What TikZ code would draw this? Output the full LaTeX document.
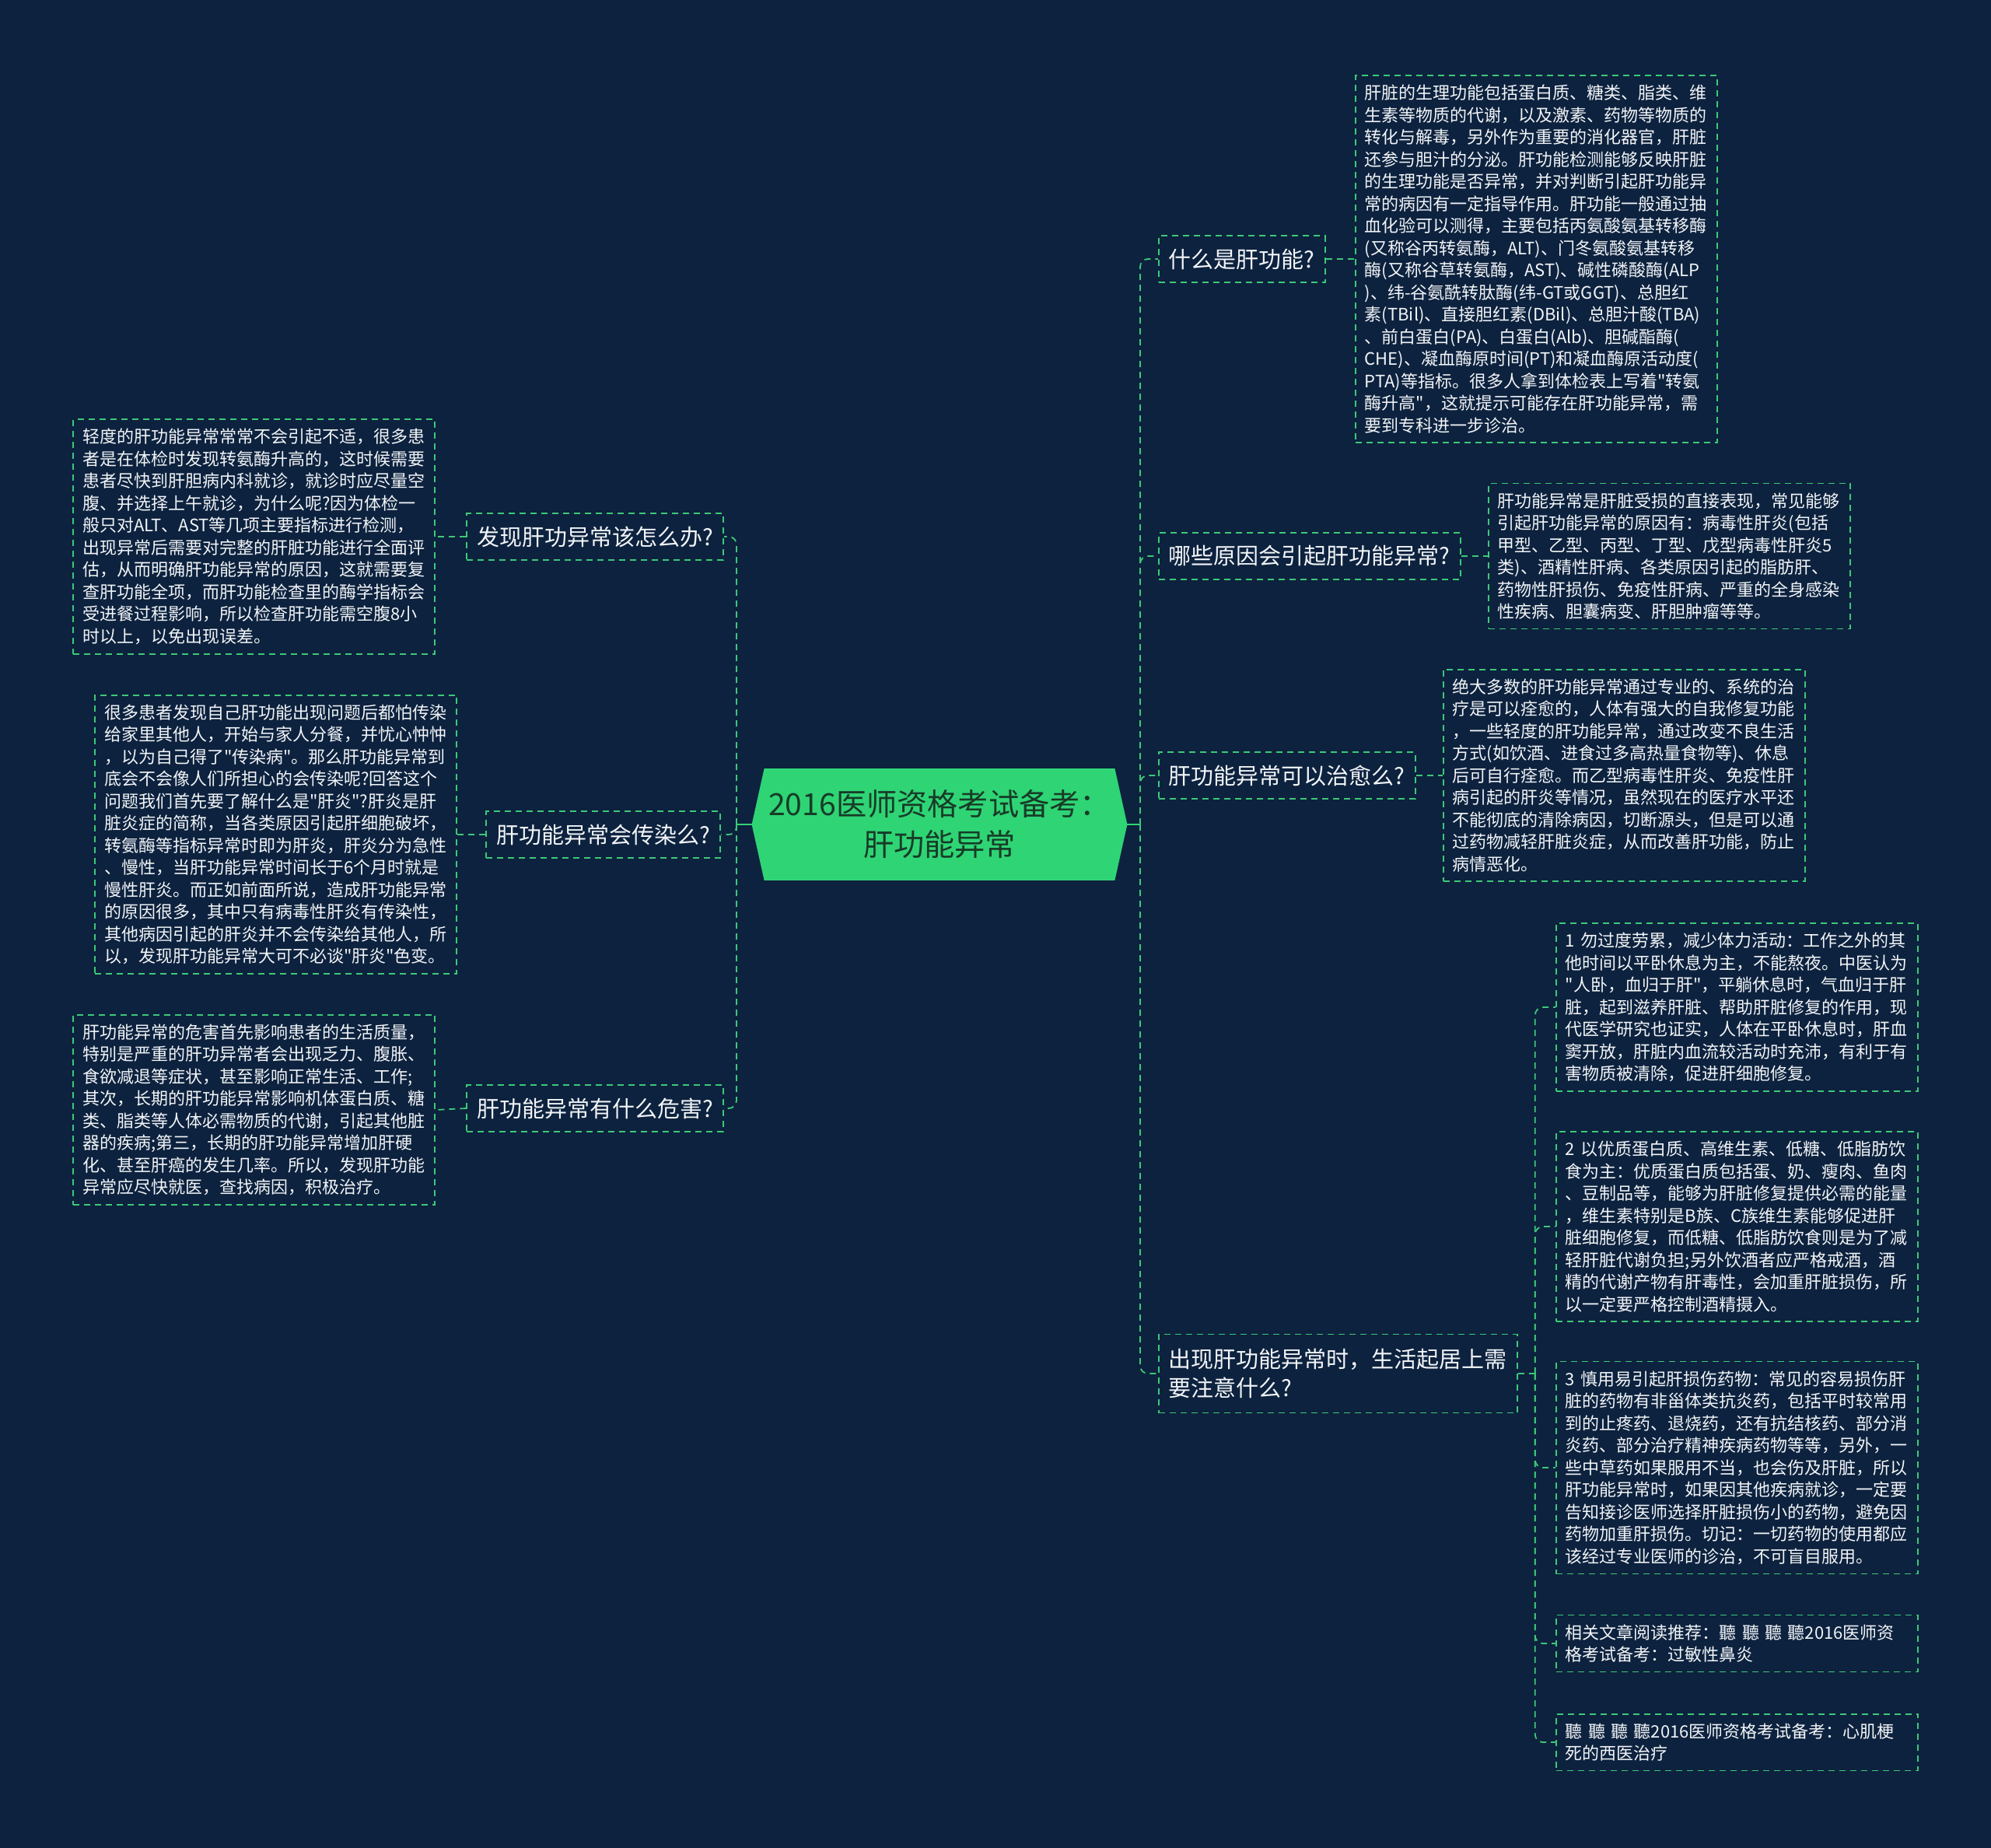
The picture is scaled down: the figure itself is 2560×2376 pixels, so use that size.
\documentclass[tikz,border=0pt]{standalone}
\usepackage{fontspec}
\setmainfont{Noto Sans CJK SC}[Ligatures=TeXOff]
\usepackage{tikz}
\definecolor{pagebg}{HTML}{0D223E}
\definecolor{mintline}{HTML}{3CC978}
\definecolor{hubgreen}{HTML}{2FD475}
\definecolor{hubtext}{HTML}{173B27}
\definecolor{leaftext}{HTML}{F2F5F8}
\pgfdeclarelayer{bg}
\pgfsetlayers{bg,main}
\hyphenpenalty=10000
\exhyphenpenalty=10000

\begin{document}
\begin{tikzpicture}[
        x=0.5pt, y=-0.5pt,
        hub/.style={rectangle, minimum width=225pt, minimum height=71.5pt, inner sep=0pt,
            align=center, text=hubtext, font=\fontsize{19.6pt}{26pt}\selectfont},
        topic/.style={rectangle, draw=mintline, dash pattern=on 4pt off 3pt, line width=0.9pt,
            inner xsep=6.5pt, minimum height=30pt, align=left, text=leaftext,
            font=\fontsize{14.5pt}{18.8pt}\selectfont},
        leaf/.style={rectangle, draw=mintline, dash pattern=on 4pt off 3pt, line width=0.9pt,
            inner xsep=6pt, inner ysep=6pt, text width=220.5pt, align=left, text=leaftext,
            font=\fontsize{11pt}{14.25pt}\selectfont},
        link/.style={draw=mintline, dash pattern=on 4pt off 3pt, line width=0.9pt, rounded corners=5pt},
        stub/.style={draw=hubgreen, line width=1.2pt}
    ]

        \begin{pgfonlayer}{bg}
            \fill[pagebg] (0,0) rectangle (2560,2376);
        \end{pgfonlayer}
        \useasboundingbox (0,0) rectangle (2560,2376);

        \node[hub] (hub) at (1208,1060) {2016医师资格考试备考：\\肝功能异常};
        \begin{pgfonlayer}{bg}
            \fill[hubgreen] (hub.north west) -- (hub.north east) -- ([xshift=8pt]hub.east)
                -- (hub.south east) -- (hub.south west) -- ([xshift=-8pt]hub.west) -- cycle;
        \end{pgfonlayer}
        \coordinate (jl) at (947,1060);
        \coordinate (jr) at (1466,1060);

        \node[topic, anchor=east] (find) at (931,690) {发现肝功异常该怎么办?};
        \node[topic, anchor=east] (spread) at (927,1073) {肝功能异常会传染么?};
        \node[topic, anchor=east] (harm) at (931,1425) {肝功能异常有什么危害?};
        \node[topic, anchor=west] (what) at (1489,333) {什么是肝功能?};
        \node[topic, anchor=west] (cause) at (1489,715) {哪些原因会引起肝功能异常?};
        \node[topic, anchor=west] (cure) at (1489,997) {肝功能异常可以治愈么?};
        \node[topic, anchor=west, minimum height=50.5pt] (care) at (1489,1766) {出现肝功能异常时，生活起居上需\\要注意什么?};

        \node[leaf, anchor=east] (findTxt) at (560,690) {轻度的肝功能异常常常不会引起不适，很多患\\者是在体检时发现转氨酶升高的，这时候需要\\患者尽快到肝胆病内科就诊，就诊时应尽量空\\腹、并选择上午就诊，为什么呢?因为体检一\\般只对ALT、AST等几项主要指标进行检测，\\出现异常后需要对完整的肝脏功能进行全面评\\估，从而明确肝功能异常的原因，这就需要复\\查肝功能全项，而肝功能检查里的酶学指标会\\受进餐过程影响，所以检查肝功能需空腹8小\\时以上，以免出现误差。};
        \node[leaf, anchor=east] (spreadTxt) at (588,1073) {很多患者发现自己肝功能出现问题后都怕传染\\给家里其他人，开始与家人分餐，并忧心忡忡\\，以为自己得了"传染病"。那么肝功能异常到\\底会不会像人们所担心的会传染呢?回答这个\\问题我们首先要了解什么是"肝炎"?肝炎是肝\\脏炎症的简称，当各类原因引起肝细胞破坏，\\转氨酶等指标异常时即为肝炎，肝炎分为急性\\、慢性，当肝功能异常时间长于6个月时就是\\慢性肝炎。而正如前面所说，造成肝功能异常\\的原因很多，其中只有病毒性肝炎有传染性，\\其他病因引起的肝炎并不会传染给其他人，所\\以，发现肝功能异常大可不必谈"肝炎"色变。};
        \node[leaf, anchor=east] (harmTxt) at (560,1427) {肝功能异常的危害首先影响患者的生活质量，\\特别是严重的肝功异常者会出现乏力、腹胀、\\食欲减退等症状，甚至影响正常生活、工作;\\其次，长期的肝功能异常影响机体蛋白质、糖\\类、脂类等人体必需物质的代谢，引起其他脏\\器的疾病;第三，长期的肝功能异常增加肝硬\\化、甚至肝癌的发生几率。所以，发现肝功能\\异常应尽快就医，查找病因，积极治疗。};
        \node[leaf, anchor=west] (whatTxt) at (1742,333) {肝脏的生理功能包括蛋白质、糖类、脂类、维\\生素等物质的代谢，以及激素、药物等物质的\\转化与解毒，另外作为重要的消化器官，肝脏\\还参与胆汁的分泌。肝功能检测能够反映肝脏\\的生理功能是否异常，并对判断引起肝功能异\\常的病因有一定指导作用。肝功能一般通过抽\\血化验可以测得，主要包括丙氨酸氨基转移酶\\(又称谷丙转氨酶，ALT)、门冬氨酸氨基转移\\酶(又称谷草转氨酶，AST)、碱性磷酸酶(ALP\\)、纬-谷氨酰转肽酶(纬-GT或GGT)、总胆红\\素(TBil)、直接胆红素(DBil)、总胆汁酸(TBA)\\、前白蛋白(PA)、白蛋白(Alb)、胆碱酯酶(\\CHE)、凝血酶原时间(PT)和凝血酶原活动度(\\PTA)等指标。很多人拿到体检表上写着"转氨\\酶升高"，这就提示可能存在肝功能异常，需\\要到专科进一步诊治。};
        \node[leaf, anchor=west] (causeTxt) at (1913,715) {肝功能异常是肝脏受损的直接表现，常见能够\\引起肝功能异常的原因有：病毒性肝炎(包括\\甲型、乙型、丙型、丁型、戊型病毒性肝炎5\\类)、酒精性肝病、各类原因引起的脂肪肝、\\药物性肝损伤、免疫性肝病、严重的全身感染\\性疾病、胆囊病变、肝胆肿瘤等等。};
        \node[leaf, anchor=west] (cureTxt) at (1855,997) {绝大多数的肝功能异常通过专业的、系统的治\\疗是可以痊愈的，人体有强大的自我修复功能\\，一些轻度的肝功能异常，通过改变不良生活\\方式(如饮酒、进食过多高热量食物等)、休息\\后可自行痊愈。而乙型病毒性肝炎、免疫性肝\\病引起的肝炎等情况，虽然现在的医疗水平还\\不能彻底的清除病因，切断源头，但是可以通\\过药物减轻肝脏炎症，从而改善肝功能，防止\\病情恶化。};
        \node[leaf, anchor=west] (rest) at (2000,1295) {1~勿过度劳累，减少体力活动：工作之外的其\\他时间以平卧休息为主，不能熬夜。中医认为\\"人卧，血归于肝"，平躺休息时，气血归于肝\\脏，起到滋养肝脏、帮助肝脏修复的作用，现\\代医学研究也证实，人体在平卧休息时，肝血\\窦开放，肝脏内血流较活动时充沛，有利于有\\害物质被清除，促进肝细胞修复。};
        \node[leaf, anchor=west] (diet) at (2000,1577) {2~以优质蛋白质、高维生素、低糖、低脂肪饮\\食为主：优质蛋白质包括蛋、奶、瘦肉、鱼肉\\、豆制品等，能够为肝脏修复提供必需的能量\\，维生素特别是B族、C族维生素能够促进肝\\脏细胞修复，而低糖、低脂肪饮食则是为了减\\轻肝脏代谢负担;另外饮酒者应严格戒酒，酒\\精的代谢产物有肝毒性，会加重肝脏损伤，所\\以一定要严格控制酒精摄入。};
        \node[leaf, anchor=west] (drugs) at (2000,1887) {3~慎用易引起肝损伤药物：常见的容易损伤肝\\脏的药物有非甾体类抗炎药，包括平时较常用\\到的止疼药、退烧药，还有抗结核药、部分消\\炎药、部分治疗精神疾病药物等等，另外，一\\些中草药如果服用不当，也会伤及肝脏，所以\\肝功能异常时，如果因其他疾病就诊，一定要\\告知接诊医师选择肝脏损伤小的药物，避免因\\药物加重肝损伤。切记：一切药物的使用都应\\该经过专业医师的诊治，不可盲目服用。};
        \node[leaf, anchor=west] (readA) at (2000,2113) {相关文章阅读推荐：聽~聽~聽~聽2016医师资\\格考试备考：过敏性鼻炎};
        \node[leaf, anchor=west] (readB) at (2000,2240) {聽~聽~聽~聽2016医师资格考试备考：心肌梗\\死的西医治疗};

        \draw[stub] ([xshift=-8pt]hub.west) -- (jl);
        \draw[stub] ([xshift=8pt]hub.east) -- (jr);
        \foreach \t in {find, spread, harm}
            \draw[link] (jl) |- (\t.east);
        \foreach \t in {what, cause, cure, care}
            \draw[link] (jr) |- (\t.west);

        \draw[link] (find.west) -- (findTxt.east);
        \draw[link] (spread.west) -- (spreadTxt.east);
        \draw[link] (harm.west) -- (harmTxt.east);
        \draw[link] (what.east) -- (whatTxt.west);
        \draw[link] (cause.east) -- (causeTxt.west);
        \draw[link] (cure.east) -- (cureTxt.west);

        \coordinate (jc) at ([xshift=11pt]care.east);
        \draw[link] (care.east) -- (jc);
        \foreach \t in {rest, diet, drugs, readA, readB}
            \draw[link] (jc) |- (\t.west);

    \end{tikzpicture}
\end{document}
